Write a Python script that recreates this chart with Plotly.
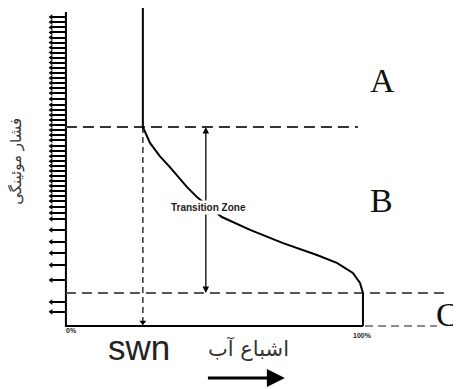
import plotly.graph_objects as go

# water saturation (%) and capillary pressure (arbitrary units)
curve_sw = [25.9, 25.9, 28.3, 31.6, 35.0, 40.7, 44.4, 48.5, 52.5, 62.0, 73.1, 84.5, 91.2, 96.6, 99.0, 100.0, 100.0]
curve_pc = [102.2, 63.4, 58.3, 54.1, 50.6, 44.3, 40.8, 37.6, 34.7, 30.6, 26.4, 22.6, 20.1, 16.9, 13.7, 10.5, 0.0]

tick_pc = [98.4, 96.8, 95.1, 93.5, 91.9, 90.3, 88.7, 87.1, 85.5, 83.9, 82.3, 80.6,
           79.0, 77.4, 75.8, 74.2, 72.3, 70.4, 68.8, 67.2, 65.6, 64.0, 62.4, 60.8,
           59.2, 57.3, 55.7, 54.1, 52.5, 51.0, 49.4, 47.8, 46.2, 44.6, 43.0, 41.4,
           39.8, 37.9, 36.0, 34.1, 30.6, 26.8, 23.2, 19.4, 14.6, 7.6, 4.5]

swn = 25.9
pc_top_zone = 63.4      # top of transition zone
pc_free_water = 10.5    # bottom of transition zone
zone_x = 47.1
zone_labels = ["A", "B", "C"]
zone_label_x = [106.7, 106.4, 128.4]
zone_label_y = [78.3, 40.1, 3.5]

# page body has an 8px margin, so the figure is a bit smaller than the window
W, H = 453, 381

fig = go.Figure()

# axes frame
fig.add_trace(go.Scatter(x=[0, 0, 100], y=[100, 0, 0], mode="lines",
                         line=dict(color="black", width=2)))

# tick arrow-dots on the left of the y axis
fig.add_trace(go.Scatter(x=[-5.0] * len(tick_pc), y=tick_pc, mode="markers",
                         marker=dict(symbol="triangle-left", size=5, color="black")))

# dashed guide lines
fig.add_trace(go.Scatter(x=[0, 98.3], y=[pc_top_zone, pc_top_zone], mode="lines",
                         line=dict(color="#333", width=2, dash="11px,6px")))
fig.add_trace(go.Scatter(x=[0, 128.6], y=[pc_free_water, pc_free_water], mode="lines",
                         line=dict(color="#555", width=2, dash="10px,6px")))
fig.add_trace(go.Scatter(x=[100.7, 124.9], y=[0, 0], mode="lines",
                         line=dict(color="#666", width=1.5, dash="8px,5px")))
fig.add_trace(go.Scatter(x=[swn, swn], y=[pc_top_zone, 1.5], mode="lines",
                         line=dict(color="#333", width=1.5, dash="6px,4px")))
fig.add_trace(go.Scatter(x=[swn], y=[1.2], mode="markers",
                         marker=dict(symbol="triangle-down", size=6, color="black")))

# capillary pressure curve
fig.add_trace(go.Scatter(x=curve_sw, y=curve_pc, mode="lines",
                         line=dict(color="black", width=2)))

# transition zone double arrow
for tip in [pc_top_zone, pc_free_water]:
    fig.add_annotation(x=zone_x, y=tip, ax=zone_x, ay=37.6, axref="x", ayref="y",
                       text="", showarrow=True, arrowhead=2, arrowsize=1,
                       arrowwidth=1.3, arrowcolor="black", standoff=0)
fig.add_annotation(x=48.0, y=37.6, text="<b>Transition Zone</b>", showarrow=False,
                   font=dict(family="Liberation Sans", size=10, color="#222"),
                   bgcolor="white", borderpad=1)

for lab, lx, ly in zip(zone_labels, zone_label_x, zone_label_y):
    fig.add_annotation(x=lx, y=ly, text=lab, showarrow=False,
                       font=dict(family="Liberation Serif", size=34, color="#111"))

fig.add_annotation(x=2.0, y=-1.6, text="<b>0%</b>", showarrow=False,
                   font=dict(family="Liberation Sans", size=7, color="#222"))
fig.add_annotation(x=100.0, y=-2.9, text="<b>100%</b>", showarrow=False,
                   font=dict(family="Liberation Sans", size=7, color="#222"))
fig.add_annotation(x=24.5, y=-6.9, text="swn", showarrow=False,
                   font=dict(family="Liberation Sans", size=35, color="#222"))
fig.add_annotation(x=61.3, y=-7.3, text="اشباع آب", showarrow=False,
                   font=dict(family="DejaVu Sans", size=21, color="#333"))
fig.add_annotation(x=73.7, y=-16.6, ax=47.3, ay=-16.6, axref="x", ayref="y",
                   text="", showarrow=True, arrowhead=2, arrowsize=1.2,
                   arrowwidth=3, arrowcolor="black", standoff=0)
fig.add_annotation(x=-16.6, y=52.5, text="فشار موئینگی", textangle=-90, showarrow=False,
                   font=dict(family="DejaVu Sans", size=15, color="#333"))

fig.update_layout(
    width=W,
    height=H,
    margin=dict(l=0, r=0, t=0, b=0),
    showlegend=False,
    plot_bgcolor="white",
    paper_bgcolor="white",
    xaxis=dict(range=[-19.5, 133.0], visible=False),
    yaxis=dict(range=[-20.1, 101.3], anchor="free", position=(66 - 8) / W,
               tickvals=tick_pc, ticks="outside", ticklen=14, tickwidth=1.5,
               tickcolor="black", showticklabels=False, showgrid=False,
               zeroline=False, showline=False),
)

fig.write_html("out.html")
